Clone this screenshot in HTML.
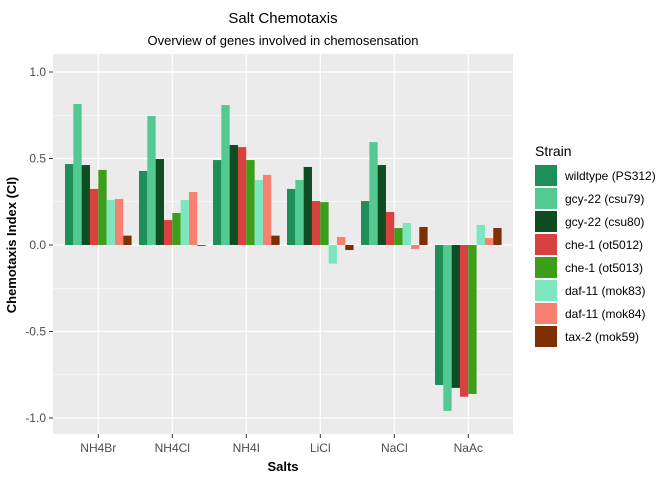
<!DOCTYPE html>
<html><head><meta charset="utf-8"><style>
body{margin:0;background:#fff;}
svg{display:block;font-family:"Liberation Sans",Arial,sans-serif;}
</style></head><body>
<svg id="chart" width="672" height="480">
<text x="283" y="23" font-size="15" text-anchor="middle" fill="#000">Salt Chemotaxis</text>
<text x="283" y="45" font-size="13" text-anchor="middle" fill="#000">Overview of genes involved in chemosensation</text>
<rect x="53" y="54" width="460" height="380" fill="#EBEBEB"/>
<g id="grid"></g><g id="bars"></g><g id="axes"></g><g id="legend"></g>
<text x="283" y="471" font-size="13" font-weight="bold" text-anchor="middle">Salts</text>
<text transform="translate(16,245) rotate(-90)" font-size="13" font-weight="bold" text-anchor="middle">Chemotaxis Index (CI)</text>
</svg>
<script>
const categories=["NH4Br","NH4Cl","NH4I","LiCl","NaCl","NaAc"];
const strains=["wildtype (PS312)","gcy-22 (csu79)","gcy-22 (csu80)","che-1 (ot5012)","che-1 (ot5013)","daf-11 (mok83)","daf-11 (mok84)","tax-2 (mok59)"];
const colors=["#1F8F5A","#55C992","#0E4D22","#D94141","#3D9E1A","#7DE6BE","#F88070","#7F2F04"];
const wildtype=[0.468,0.428,0.491,0.324,0.254,-0.809];
const csu79=[0.815,0.746,0.809,0.376,0.595,-0.959];
const csu80=[0.462,0.497,0.578,0.451,0.462,-0.826];
const ot5012=[0.324,0.144,0.566,0.254,0.191,-0.877];
const ot5013=[0.434,0.185,0.491,0.248,0.098,-0.861];
const mok83=[0.26,0.26,0.376,-0.108,0.127,0.116];
const mok84=[0.266,0.306,0.405,0.046,-0.023,0.04];
const mok59=[0.054,-0.005,0.054,-0.029,0.104,0.098];
const series=[wildtype,csu79,csu80,ot5012,ot5013,mok83,mok84,mok59];
const yTicks=[-1.0,-0.5,0.0,0.5,1.0];
const yTickLabels=["-1.0","-0.5","0.0","0.5","1.0"];
const NS="http://www.w3.org/2000/svg";
const y=v=>245-v*173;
const xc=i=>98.3+i*74;
const bw=74*0.9/8;
function mk(tag,attrs,parent){const e=document.createElementNS(NS,tag);for(const k in attrs)e.setAttribute(k,attrs[k]);parent.appendChild(e);return e;}
const grid=document.getElementById('grid'),bars=document.getElementById('bars'),axes=document.getElementById('axes'),legend=document.getElementById('legend');
for(let i=0;i<yTicks.length-1;i++){const v=(yTicks[i]+yTicks[i+1])/2;const l=mk('line',{x1:53,x2:513,y1:y(v),y2:y(v),stroke:'#fff','stroke-width':0.6},grid);

}
yTicks.forEach((v,i)=>{const l=mk('line',{x1:53,x2:513,y1:y(v),y2:y(v),stroke:'#fff','stroke-width':1.2},grid);


const t=mk('line',{x1:49,x2:53,y1:y(v),y2:y(v),stroke:'#333'},axes);


const tx=mk('text',{x:46,y:y(v)+4,'font-size':12,fill:'#4D4D4D','text-anchor':'end'},axes);tx.textContent=yTickLabels[i];

});
categories.forEach((c,i)=>{const l=mk('line',{x1:xc(i),x2:xc(i),y1:54,y2:434,stroke:'#fff','stroke-width':1.2},grid);


const t=mk('line',{x1:xc(i),x2:xc(i),y1:434,y2:438,stroke:'#333'},axes);


const tx=mk('text',{x:xc(i),y:452,'font-size':12,fill:'#4D4D4D','text-anchor':'middle'},axes);tx.textContent=c;

});
series.forEach((s,j)=>{s.forEach((v,i)=>{const x0=xc(i)-4*bw+j*bw;const r=mk('rect',{x:x0,y:Math.min(y(v),y(0)),width:bw,height:Math.max(Math.abs(y(v)-y(0)),0.5),fill:colors[j]},bars);

});});
const lt=mk('text',{x:535,y:156,'font-size':14},legend);lt.textContent='Strain';


strains.forEach((s,j)=>{const g=mk('g',{},legend);


mk('rect',{x:535,y:165+j*23,width:22,height:21,fill:colors[j]},g);
const t=mk('text',{x:565,y:180+j*23,'font-size':12},g);t.textContent=s;});
</script>
</body></html>
